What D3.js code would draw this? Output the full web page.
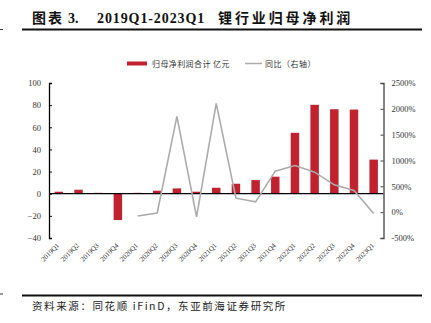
<!DOCTYPE html>
<html><head><meta charset="utf-8">
<script src="https://cdn.jsdelivr.net/npm/d3@7"></script>
<style>
html,body{margin:0;padding:0;background:#fff;}
svg{display:block;}
</style></head>
<body>
<svg id="c" width="431" height="323"></svg>
<script>
const categories = ["2019Q1","2019Q2","2019Q3","2019Q4","2020Q1","2020Q2","2020Q3","2020Q4","2021Q1","2021Q2","2021Q3","2021Q4","2022Q1","2022Q2","2022Q3","2022Q4","2023Q1"];
const profit = [1.8, 3.6, 0.8, -23.8, 0.8, 2.7, 4.8, 1.8, 5.4, 9.0, 12.3, 15.4, 55.0, 80.3, 76.3, 76.0, 30.8];
const yoy = [null, null, null, null, -75, -15, 1853, -91, 2105, 271, 200, 794, 903, 775, 529, 420, -25];
const leftTicks = [-40, -20, 0, 20, 40, 60, 80, 100];
const rightTicks = [-500, 0, 500, 1000, 1500, 2000, 2500];
const titleParts = ["图表 3.", "2019Q1-2023Q1", "锂行业归母净利润"];
const legendLabels = ["归母净利润合计 亿元", "同比（右轴）"];
const sourceText = "资料来源：同花顺 iFinD，东亚前海证券研究所";

const svg = d3.select("#c");
const serif = "'Liberation Serif','Times New Roman',serif";
const cjk = "'Noto Sans CJK SC','Noto Sans CJK JP',sans-serif";
const barColor = "#C0222E", lineColor = "#ABABAB";

const L = 49, R = 383.5, T = 83, B = 238;
const x = d3.scaleBand().domain(categories).range([L, R]).paddingInner(0.57).paddingOuter(0.285);
const yL = d3.scaleLinear().domain([-40, 100]).range([B, T]);
const yR = d3.scaleLinear().domain([-500, 2500]).range([B, T]);

// Title
const ty = 22.5;
const title = svg.append("g").attr("font-weight", "bold").attr("fill", "#111");
title.append("text").attr("x", 32).attr("y", ty).attr("font-family", cjk).attr("font-size", 14).attr("letter-spacing", 2).text(titleParts[0].slice(0,2));
title.append("text").attr("x", 68).attr("y", ty).attr("font-family", serif).attr("font-size", 14).text(titleParts[0].slice(3));
title.append("text").attr("x", 97).attr("y", ty).attr("font-family", serif).attr("font-size", 14).attr("letter-spacing", 0.9).text(titleParts[1]);
title.append("text").attr("x", 218).attr("y", ty).attr("font-family", cjk).attr("font-size", 14).attr("letter-spacing", 2.9).text(titleParts[2]);
svg.append("line").attr("x1", 22).attr("x2", 422).attr("y1", 29.5).attr("y2", 29.5).attr("stroke", "#111").attr("stroke-width", 1.8);
svg.append("line").attr("x1", 0).attr("x2", 3).attr("y1", 29.5).attr("y2", 29.5).attr("stroke", "#333").attr("stroke-width", 1);

// Legend
const lg = svg.append("g");
lg.append("rect").attr("x", 127).attr("y", 61.5).attr("width", 20).attr("height", 4).attr("fill", barColor);
lg.append("text").attr("x", 152).attr("y", 66.5).attr("font-family", cjk).attr("font-size", 8).attr("letter-spacing", 0.4).attr("fill", "#333").text(legendLabels[0]);
lg.append("line").attr("x1", 245).attr("x2", 262).attr("y1", 63.5).attr("y2", 63.5).attr("stroke", lineColor).attr("stroke-width", 1.5);
lg.append("text").attr("x", 265).attr("y", 66.5).attr("font-family", cjk).attr("font-size", 8).attr("letter-spacing", 0.5).attr("fill", "#333").text(legendLabels[1]);

// Bars
svg.append("g").selectAll("rect").data(profit).join("rect")
  .attr("x", (d, i) => x(categories[i]))
  .attr("width", x.bandwidth())
  .attr("y", d => yL(Math.max(0, d)))
  .attr("height", d => Math.abs(yL(d) - yL(0)))
  .attr("fill", barColor);

// Zero line
svg.append("line").attr("x1", L).attr("x2", R).attr("y1", yL(0)).attr("y2", yL(0)).attr("stroke", "#000").attr("stroke-width", 1.3);

// Line
const lineData = categories.map((c, i) => ({c, v: yoy[i]})).filter(d => d.v !== null);
svg.append("path").datum(lineData)
  .attr("d", d3.line().x(d => x(d.c) + x.bandwidth() / 2).y(d => yR(d.v)))
  .attr("fill", "none").attr("stroke", lineColor).attr("stroke-width", 1.6);

// Left axis
const axL = svg.append("g").attr("transform", `translate(${L},0)`)
  .call(d3.axisLeft(yL).tickValues(leftTicks).tickSize(-3).tickPadding(8).tickFormat(d3.format("d")));
axL.select(".domain").attr("stroke", "#000").attr("stroke-width", 1.3);
axL.selectAll(".tick line").attr("stroke", "#000");
axL.selectAll("text").attr("font-family", serif).attr("font-size", 8.5).attr("fill", "#333");

// Right axis
const axR = svg.append("g").attr("transform", `translate(${R},0)`)
  .call(d3.axisRight(yR).tickValues(rightTicks).tickSize(-3).tickPadding(8).tickFormat(d => d + "%"));
axR.select(".domain").attr("stroke", "#444").attr("stroke-width", 1.3);
axR.selectAll(".tick line").attr("stroke", "#444");
axR.selectAll("text").attr("font-family", serif).attr("font-size", 8.5).attr("fill", "#333");

// X labels
svg.append("g").selectAll("text").data(categories).join("text")
  .attr("transform", c => `translate(${x(c) + x.bandwidth() / 2 + 1},${246}) rotate(-45)`)
  .attr("text-anchor", "end")
  .attr("font-family", serif).attr("font-size", 7).attr("fill", "#333")
  .text(c => c);

// Footer
svg.append("line").attr("x1", 22).attr("x2", 422).attr("y1", 295.5).attr("y2", 295.5).attr("stroke", "#111").attr("stroke-width", 1.8);
svg.append("line").attr("x1", 0).attr("x2", 3).attr("y1", 294).attr("y2", 294).attr("stroke", "#333").attr("stroke-width", 1);
svg.append("text").attr("x", 32).attr("y", 309.5).attr("font-family", cjk).attr("font-size", 10.5).attr("letter-spacing", 1.6).attr("fill", "#222").text(sourceText);
</script>
</body></html>
